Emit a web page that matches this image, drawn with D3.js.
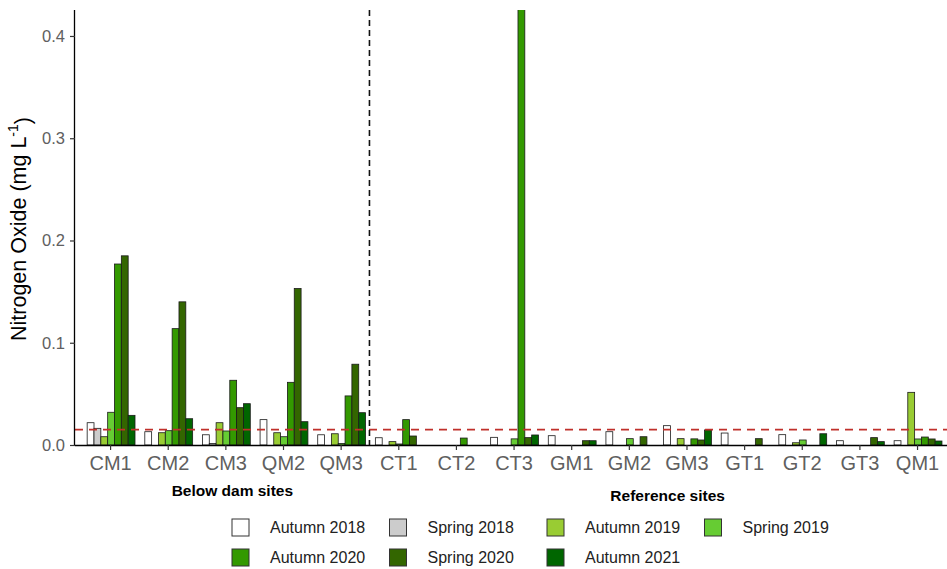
<!DOCTYPE html>
<html>
<head>
<meta charset="utf-8">
<script src="https://cdn.jsdelivr.net/npm/d3@7"></script>
<style>
  body { margin: 0; background: #fff; }
  svg { display: block; font-family: "Liberation Sans", Arial, sans-serif; }
</style>
</head>
<body>
<svg id="chart" width="947" height="569"></svg>
<script>
/* Nitrogen oxide by site and sampling season */

const sites = ['CM1', 'CM2', 'CM3', 'QM2', 'QM3', 'CT1', 'CT2', 'CT3', 'GM1', 'GM2', 'GM3', 'GT1', 'GT2', 'GT3', 'QM1'];
const seasons = ['Autumn 2018', 'Spring 2018', 'Autumn 2019', 'Spring 2019', 'Autumn 2020', 'Spring 2020', 'Autumn 2021'];
const seasonColors = ['#ffffff', '#cccccc', '#99cc33', '#66cc33', '#339900', '#336600', '#006600'];

// one array per season, same order as sites (0 = no bar)
const autumn2018 = [0.0218, 0.013, 0.010, 0.0248, 0.010, 0.0071, 0, 0.0075, 0.0091, 0.013, 0.0189, 0.0117, 0.0101, 0.0042, 0.0042];
const spring2018 = [0.0163, 0, 0.0015, 0, 0, 0, 0, 0, 0, 0, 0, 0, 0, 0, 0];
const autumn2019 = [0.0081, 0.012, 0.0218, 0.012, 0.011, 0.0033, 0, 0, 0, 0, 0.0062, 0, 0.0022, 0, 0.0515];
const spring2019 = [0.032, 0.014, 0.0137, 0.0081, 0.0015, 0.001, 0, 0.006, 0, 0.0062, 0, 0, 0.0049, 0, 0.0059];
const autumn2020 = [0.177, 0.1138, 0.0633, 0.0613, 0.048, 0.0248, 0.0068, 0.43, 0, 0, 0.006, 0, 0, 0, 0.0078];
const spring2020 = [0.185, 0.140, 0.0365, 0.153, 0.079, 0.0088, 0, 0.0072, 0.0042, 0.0081, 0.0049, 0.0062, 0, 0.0072, 0.0059];
const autumn2021 = [0.029, 0.0257, 0.0404, 0.0228, 0.0316, 0, 0, 0.0098, 0.0042, 0, 0.0147, 0, 0.011, 0.0033, 0.0039];
const seriesValues = [autumn2018, spring2018, autumn2019, spring2019, autumn2020, spring2020, autumn2021];

const yTicks = [0, 0.1, 0.2, 0.3, 0.4];
const threshold = 0.015;
const groupLabels = [
  { text: 'Below dam sites', from: 'CM1', to: 'QM3', dx: 7, dy: 0 },
  { text: 'Reference sites', from: 'CT1', to: 'QM1', dx: 10, dy: 5 }
];

const svg = d3.select('#chart');
const plot = { left: 75, top: 10, bottom: 445, right: 947 };

// scales
const x = d3.scalePoint()
  .domain(sites)
  .range([plot.left + 0.5, plot.left + 0.5 + 15.2 * 57.64])
  .padding(0.6);
const step = x.step();
const inner = d3.scaleBand()
  .domain(seasons)
  .range([-0.415 * step, 0.415 * step]);
const y = d3.scaleLinear()
  .domain([0, 0.4254])
  .range([plot.bottom, plot.top]);
const color = d3.scaleOrdinal().domain(seasons).range(seasonColors);

svg.append('defs').append('clipPath')
  .attr('id', 'panel')
  .append('rect')
  .attr('x', plot.left)
  .attr('y', plot.top)
  .attr('width', plot.right - plot.left)
  .attr('height', plot.bottom - plot.top);

const bars = [];
seriesValues.forEach((vals, si) => {
  vals.forEach((v, i) => {
    if (v > 0) bars.push({ site: sites[i], season: seasons[si], value: v });
  });
});

const panel = svg.append('g').attr('clip-path', 'url(#panel)');

panel.selectAll('.bar')
  .data(bars)
  .enter()
  .append('rect')
  .attr('class', 'bar')
  .attr('x', d => x(d.site) + inner(d.season) + 1)
  .attr('width', inner.bandwidth())
  .attr('y', d => y(d.value))
  .attr('height', d => y(0) - y(d.value))
  .attr('fill', d => color(d.season))
  .attr('stroke', '#1a1a1a')
  .attr('stroke-width', 0.8);

// reference threshold
panel.append('line')
  .attr('x1', plot.left)
  .attr('x2', plot.right)
  .attr('y1', y(threshold))
  .attr('y2', y(threshold))
  .attr('stroke', '#c0302b')
  .attr('stroke-width', 1.6)
  .attr('stroke-dasharray', '8,6');

// separator between below-dam and reference sites
const sepX = (x('QM3') + x('CT1')) / 2;
panel.append('line')
  .attr('x1', sepX)
  .attr('x2', sepX)
  .attr('y1', plot.top)
  .attr('y2', plot.bottom)
  .attr('stroke', '#111')
  .attr('stroke-width', 1.6)
  .attr('stroke-dasharray', '6,4');

// axes
const xAxis = svg.append('g')
  .attr('transform', `translate(0,${plot.bottom})`)
  .call(d3.axisBottom(x).tickSize(5).tickPadding(6));
xAxis.select('.domain').attr('d', `M${plot.left},0.5H${plot.right}`).attr('stroke', '#000').attr('stroke-width', 1.3);
xAxis.selectAll('.tick line').attr('stroke', '#333').attr('stroke-width', 1.2);
xAxis.selectAll('.tick text')
  .attr('fill', '#606060')
  .style('font-size', '20px')
  .style('font-family', '"Liberation Sans", Arial, sans-serif');

const yAxis = svg.append('g')
  .attr('transform', `translate(${plot.left},0)`)
  .call(d3.axisLeft(y).tickValues(yTicks).tickFormat(d3.format('.1f')).tickSize(5).tickPadding(5));
yAxis.select('.domain').attr('d', `M-0.5,${plot.top}V${plot.bottom + 1}`).attr('stroke', '#000').attr('stroke-width', 1.3);
yAxis.selectAll('.tick line').attr('stroke', '#333').attr('stroke-width', 1.2);
yAxis.selectAll('.tick text')
  .attr('fill', '#606060')
  .style('font-size', '16.5px')
  .style('font-family', '"Liberation Sans", Arial, sans-serif');

// axis title
const yTitle = svg.append('text')
  .attr('transform', 'translate(26,229) rotate(-90)')
  .attr('text-anchor', 'middle')
  .attr('fill', '#000')
  .style('font-size', '21.5px');
yTitle.append('tspan').text('Nitrogen Oxide (mg L');
yTitle.append('tspan').attr('dy', '-0.55em').style('font-size', '14px').text('-1');
yTitle.append('tspan').attr('dy', '0.55em').text(')');

// group captions under the site labels
svg.selectAll('.group-label')
  .data(groupLabels)
  .enter()
  .append('text')
  .attr('class', 'group-label')
  .attr('x', d => (x(d.from) + x(d.to)) / 2 + d.dx)
  .attr('y', d => 496 + d.dy)
  .attr('text-anchor', 'middle')
  .attr('font-weight', 'bold')
  .style('font-size', '15.5px')
  .attr('fill', '#000')
  .text(d => d.text);

// legend, 4 per row
const legend = svg.append('g').attr('class', 'legend');
const items = legend.selectAll('.item')
  .data(seasons)
  .enter()
  .append('g')
  .attr('class', 'item')
  .attr('transform', (d, i) => `translate(${232 + (i % 4) * 157.5},${519 + Math.floor(i / 4) * 30})`);
items.append('rect')
  .attr('width', 17)
  .attr('height', 17)
  .attr('fill', d => color(d))
  .attr('stroke', '#333')
  .attr('stroke-width', 1);
items.append('text')
  .attr('x', 38)
  .attr('y', 14)
  .attr('fill', '#222')
  .style('font-size', '16px')
  .text(d => d);
</script>
</body>
</html>
